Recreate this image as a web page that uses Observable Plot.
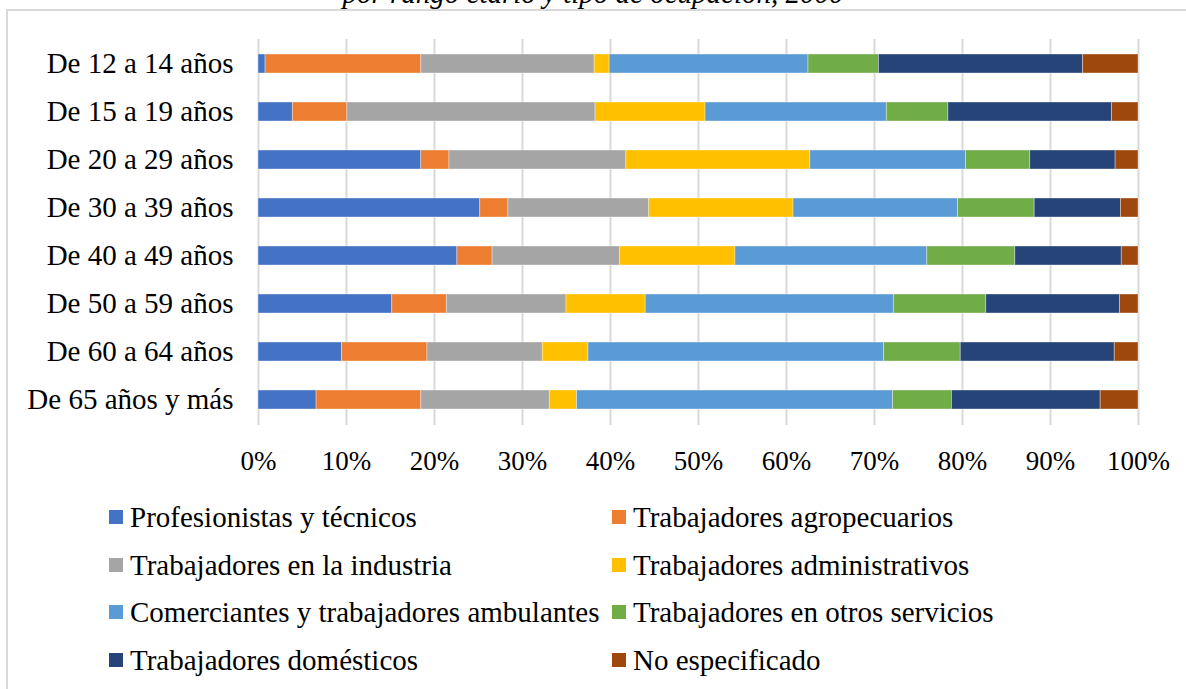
<!DOCTYPE html>
<html>
<head>
<meta charset="utf-8">
<script src="https://cdn.jsdelivr.net/npm/d3@7"></script>
<script src="https://cdn.jsdelivr.net/npm/@observablehq/plot@0.6"></script>
<style>
  html, body { margin: 0; padding: 0; background: #fff; overflow: hidden; }
  #root { position: relative; width: 1186px; height: 689px; overflow: hidden; background: #fff;
          font-family: "Liberation Serif", "Times New Roman", serif; color: #000; }
  #frame { position: absolute; left: 6px; top: 9px; width: 1300px; height: 900px; border: 2px solid #d9d9d9; }
  #title { position: absolute; left: 0; width: 1186px; top: -21px; text-align: center; font-style: italic;
           font-size: 29px; line-height: 29px; white-space: nowrap; }
  #chart { position: absolute; left: 0; top: 0; }
  .item { position: absolute; height: 40px; display: flex; align-items: center; font-size: 29px; line-height: 40px; white-space: nowrap; }
  .sw { width: 14px; height: 14px; margin-right: 7px; flex: none; }
</style>
</head>
<body>
<div id="root">
  <div id="frame"></div>
  <div id="title">por rango etario y tipo de ocupación, 2000</div>
  <div id="chart"></div>
  <div id="legend"></div>
</div>
<script>
const ages = ["De 12 a 14 años","De 15 a 19 años","De 20 a 29 años","De 30 a 39 años","De 40 a 49 años","De 50 a 59 años","De 60 a 64 años","De 65 años y más"];
const series = ["Profesionistas y técnicos","Trabajadores agropecuarios","Trabajadores en la industria","Trabajadores administrativos","Comerciantes y trabajadores ambulantes","Trabajadores en otros servicios","Trabajadores domésticos","No especificado"];
const colors = ["#4472C4","#ED7D31","#A5A5A5","#FFC000","#5B9BD5","#70AD47","#264478","#9E480E"];

const profesionistas   = [0.8, 3.9, 18.5, 25.2, 22.6, 15.2, 9.5, 6.6];
const agropecuarios    = [17.7, 6.2, 3.2, 3.2, 4.0, 6.2, 9.7, 11.9];
const industria        = [19.7, 28.2, 20.1, 16.0, 14.5, 13.6, 13.1, 14.6];
const administrativos  = [1.7, 12.5, 20.9, 16.4, 13.1, 9.0, 5.2, 3.1];
const comerciantes     = [22.6, 20.6, 17.7, 18.7, 21.8, 28.2, 33.6, 35.9];
const otrosServicios   = [8.0, 7.0, 7.3, 8.7, 10.0, 10.5, 8.7, 6.7];
const domesticos       = [23.2, 18.6, 9.7, 9.8, 12.1, 15.2, 17.5, 16.9];
const noEspecificado   = [6.3, 3.0, 2.6, 2.0, 1.9, 2.1, 2.7, 4.3];

const xTicks = [0,10,20,30,40,50,60,70,80,90,100];

const valuesBySeries = [profesionistas, agropecuarios, industria, administrativos, comerciantes, otrosServicios, domesticos, noEspecificado];
const data = [];
series.forEach((s, si) => {
  ages.forEach((a, ai) => data.push({age: a, series: s, value: valuesBySeries[si][ai]}));
});

const chart = Plot.plot({
  width: 1186,
  height: 480,
  marginLeft: 258,
  marginRight: 48,
  marginTop: 39,
  marginBottom: 55,
  style: {fontFamily: '"Liberation Serif", "Times New Roman", serif', color: "#000", background: "transparent"},
  x: {domain: [0, 100], ticks: xTicks},
  y: {domain: ages, paddingInner: 0.595, paddingOuter: 0.2975},
  color: {domain: series, range: colors},
  marks: [
    Plot.gridX(xTicks, {stroke: "#d9d9d9", strokeWidth: 2, strokeOpacity: 1}),
    Plot.barX(data, Plot.stackX({y: "age", x: "value", z: "series", fill: "series", order: null, stroke: "white", strokeWidth: 0.8, strokeOpacity: 0.45})),
    Plot.axisX(xTicks, {tickSize: 0, tickPadding: 25, fontSize: 27, tickFormat: d => d + "%", label: null}),
    Plot.axisY({tickSize: 0, tickPadding: 25, fontSize: 29, label: null})
  ]
});
document.getElementById("chart").appendChild(chart);

const legend = document.getElementById("legend");
const colX = [109, 612];
series.forEach((s, i) => {
  const row = Math.floor(i / 2), col = i % 2;
  const item = document.createElement("div");
  item.className = "item";
  item.style.left = colX[col] + "px";
  item.style.top = (517 + row * 47.6 - 20) + "px";
  const sw = document.createElement("span");
  sw.className = "sw";
  sw.style.background = colors[i];
  const tx = document.createElement("span");
  tx.textContent = s;
  item.appendChild(sw);
  item.appendChild(tx);
  legend.appendChild(item);
});
</script>
</body>
</html>
